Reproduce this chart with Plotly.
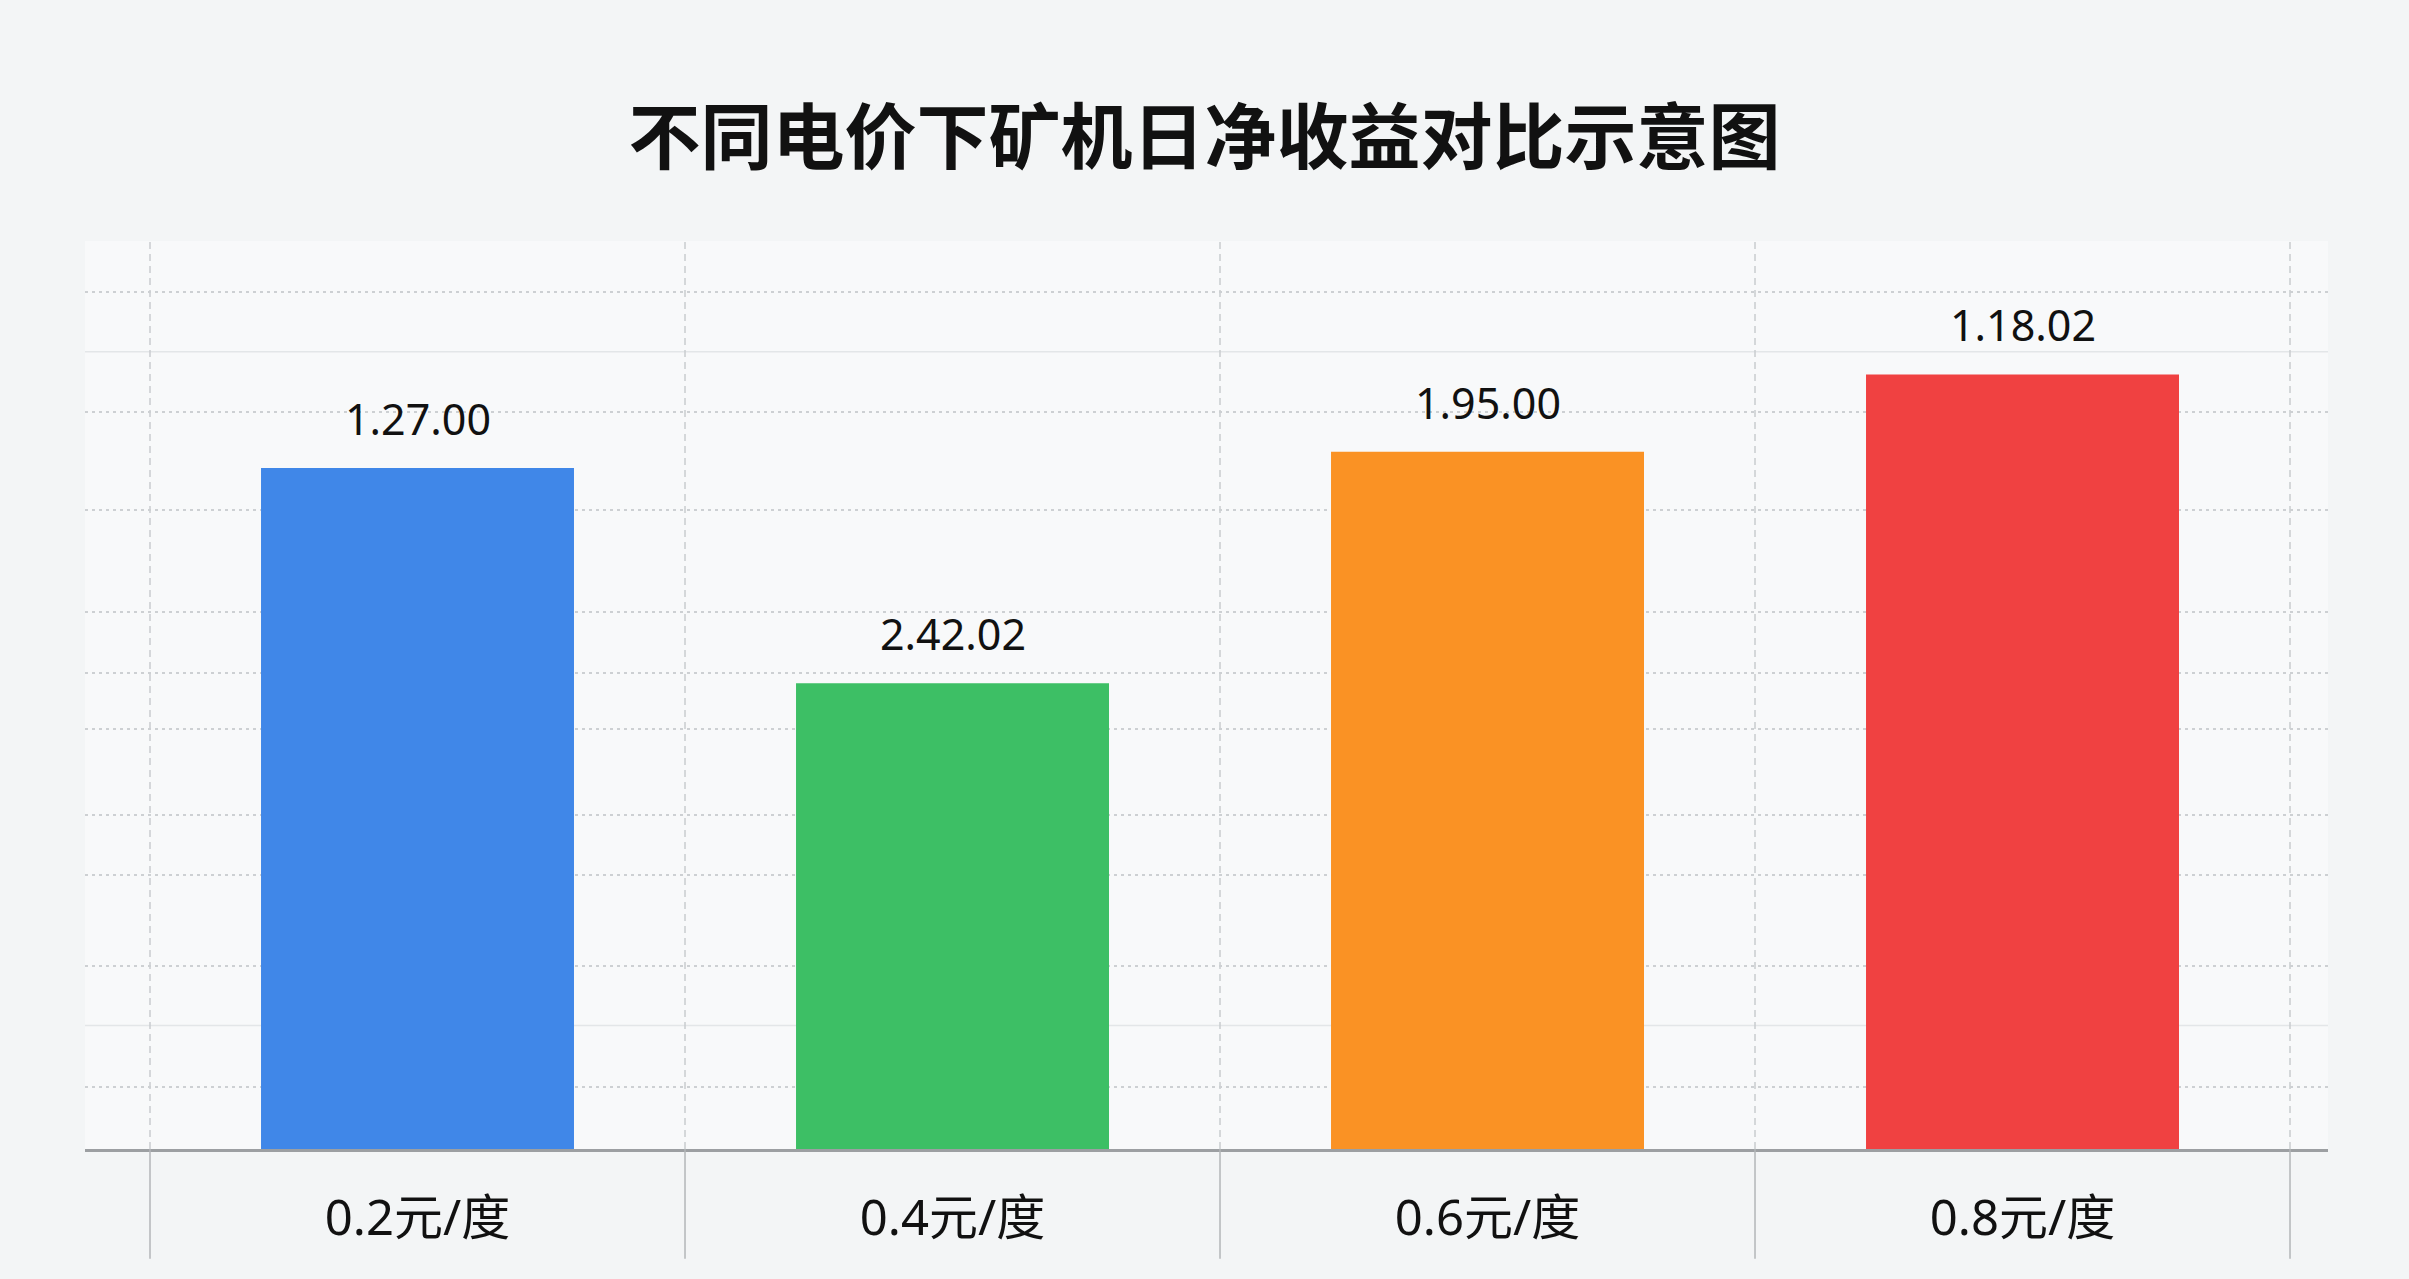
import plotly.graph_objects as go

# Data
CATEGORIES = ["0.2元/度", "0.4元/度", "0.6元/度", "0.8元/度"]
BAR_HEIGHTS = [75.0, 51.3, 76.8, 85.3]
BAR_LABELS = ["1.27.00", "2.42.02", "1.95.00", "1.18.02"]
BAR_COLORS = ["#4087e8", "#3dbf65", "#fa9224", "#f04141"]

# dotted horizontal grid positions (irregular in the original)
GRID_Y = [6.8, 20.2, 30.2, 36.8, 46.3, 52.4, 59.1, 70.4, 81.2, 94.4]
FAINT_Y = [13.6, 87.8]

TITLE = "不同电价下矿机日净收益对比示意图"
FONT = "Noto Sans, Noto Sans CJK SC, sans-serif"
BG = "#f3f5f6"


def main():
    fig = go.Figure()
    fig.add_trace(
        go.Bar(
            x=CATEGORIES,
            y=BAR_HEIGHTS,
            marker=dict(color=BAR_COLORS, line=dict(width=0)),
            hoverinfo="skip",
        )
    )

    # value labels above the bars
    for cat, h, lab in zip(CATEGORIES, BAR_HEIGHTS, BAR_LABELS):
        fig.add_annotation(
            x=cat, y=h, text=lab, showarrow=False,
            yanchor="bottom", yshift=18,
            font=dict(family=FONT, size=43, color="#111111"),
        )

    # faint solid lines in the background grid
    for fy in FAINT_Y:
        fig.add_shape(
            type="line", xref="paper", yref="y", x0=0, x1=1, y0=fy, y1=fy,
            line=dict(color="#e3e6e8", width=1.5), layer="below",
        )

    # category dividers: dashed inside the plot, solid below the axis
    for i in range(len(CATEGORIES) + 1):
        xb = i - 0.5
        fig.add_shape(
            type="line", xref="x", yref="paper", x0=xb, x1=xb, y0=0, y1=1,
            line=dict(color="#c9cccf", width=1.5, dash="7px,5px"), layer="below",
        )
        fig.add_shape(
            type="line", xref="x", yref="paper", x0=xb, x1=xb, y0=0, y1=-0.121,
            line=dict(color="#b3b5b8", width=1.5),
        )

    fig.update_layout(
        width=2409,
        height=1279,
        margin=dict(l=85, r=81, t=241, b=130),
        paper_bgcolor=BG,
        plot_bgcolor="#f8f9fa",
        showlegend=False,
        bargap=0.415,
        title=dict(
            text=TITLE,
            x=0.5, xanchor="center",
            y=1 - 138 / 1279, yanchor="middle",
            font=dict(family="Noto Sans CJK SC", size=72, color="#111111", weight="bold"),
        ),
        xaxis=dict(
            range=[-0.6215, 3.571],
            showgrid=False,
            showline=True,
            linecolor="#9c9fa2",
            linewidth=2.5,
            ticks="",
            ticklabelstandoff=24,
            tickfont=dict(family=FONT, size=49, color="#111111"),
            fixedrange=True,
        ),
        yaxis=dict(
            range=[0, 100],
            tickvals=GRID_Y,
            showticklabels=False,
            showgrid=True,
            gridcolor="#cdd0d3",
            gridwidth=1.5,
            griddash="3px,4px",
            zeroline=False,
            showline=False,
            fixedrange=True,
        ),
    )

    fig.write_html(
        "out.html",
        config={"displayModeBar": False},
        post_script=(
            "document.body.style.margin='0';"
            f"document.body.style.background='{BG}';"
        ),
    )


if __name__ == "__main__":
    main()
